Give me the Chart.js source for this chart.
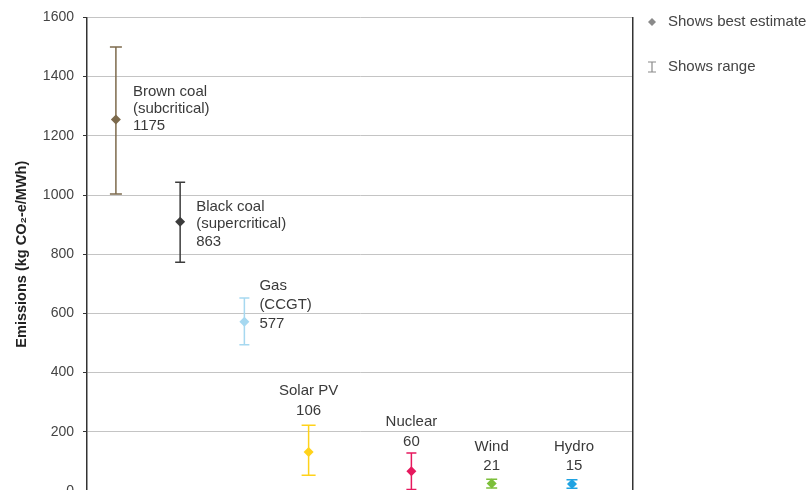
<!DOCTYPE html>
<html>
<head>
<meta charset="utf-8">
<script src="https://cdn.jsdelivr.net/npm/chart.js@4.4.1/dist/chart.umd.min.js"></script>
<style>
  html, body { margin: 0; padding: 0; background: #fff; overflow: hidden; }
  #wrap { width: 811px; height: 490px; overflow: hidden; }
</style>
</head>
<body>
<div id="wrap"><canvas id="chart" width="811" height="510"></canvas></div>
<script>
// datos del gráfico (kg CO2-e/MWh)
const categories = ['Brown coal', 'Black coal', 'Gas', 'Solar PV', 'Nuclear', 'Wind', 'Hydro'];
const subLabels = ['(subcritical)', '(supercritical)', '(CCGT)', '', '', '', ''];
const labelValues = [1175, 863, 577, 106, 60, 21, 15];
const xPositions = [0.45, 1.45, 2.45, 3.45, 5.05, 6.3, 7.55];
const bestEstimate = [1255, 910, 572, 132, 67, 25, 24];
const rangeLow = [1003, 773, 494, 53, 5, 10, 9];
const rangeHigh = [1500, 1043, 652, 222, 128, 40, 38];
const yTicks = [0, 200, 400, 600, 800, 1000, 1200, 1400, 1600];
const legendItems = ['Shows best estimate', 'Shows range'];

// estilos
const colors = ['#7d6a4c', '#3c3c3c', '#a6d8f0', '#ffd21a', '#e6195e', '#7cbf3a', '#1fa3e2'];
const capRadius = [6, 5, 5, 7, 5, 5.5, 5.5];
// posición de las etiquetas respecto al punto (px): dx, dy de la primera línea, alto de línea, alineación
const labelLayout = [
    { dx: 17, dy: -28, lh: 17, align: 'left' },
    { dx: 16, dy: -15, lh: 17.5, align: 'left' },
    { dx: 15, dy: -36, lh: 19, align: 'left' },
    { dx: 0, dy: -61, lh: 20, align: 'center' },
    { dx: 0, dy: -49, lh: 20, align: 'center' },
    { dx: 0, dy: -37, lh: 19, align: 'center' },
    { dx: 2, dy: -37, lh: 19, align: 'center' }
];
const FONT = '"Liberation Sans", Arial, sans-serif';

(function () {
    const datasets = [];

    // rangos: línea vertical con topes horizontales
    categories.forEach((cat, i) => {
        datasets.push({
            label: cat + ' range',
            showLine: true,
            data: [{ x: xPositions[i], y: rangeLow[i] }, { x: xPositions[i], y: rangeHigh[i] }],
            borderColor: colors[i],
            borderWidth: 1.5,
            pointStyle: 'line',
            pointRadius: capRadius[i],
            pointBorderColor: colors[i],
            pointBorderWidth: 1.5
        });
    });

    // mejor estimación (rombos)
    datasets.push({
        label: 'best estimate',
        data: categories.map((c, i) => ({ x: xPositions[i], y: bestEstimate[i] })),
        pointStyle: 'rectRot',
        pointRadius: 5,
        pointBackgroundColor: colors,
        pointBorderColor: colors,
        pointBorderWidth: 0
    });

    const pointLabels = {
        id: 'pointLabels',
        afterDatasetsDraw(chart) {
            const ctx = chart.ctx;
            const xs = chart.scales.x, ys = chart.scales.y;
            ctx.save();
            ctx.font = '15px ' + FONT;
            ctx.fillStyle = '#3a3a3a';
            ctx.textBaseline = 'middle';
            categories.forEach((cat, i) => {
                const lay = labelLayout[i];
                const px = xs.getPixelForValue(xPositions[i]) + lay.dx;
                const py = ys.getPixelForValue(bestEstimate[i]) + lay.dy;
                const lines = [cat];
                if (subLabels[i]) lines.push(subLabels[i]);
                lines.push(String(labelValues[i]));
                ctx.textAlign = lay.align;
                lines.forEach((t, k) => ctx.fillText(t, px, py + k * lay.lh));
            });
            ctx.restore();
        }
    };

    const sideLegend = {
        id: 'sideLegend',
        afterDraw(chart) {
            const ctx = chart.ctx;
            const x0 = chart.chartArea.right + 19;
            ctx.save();
            ctx.fillStyle = '#8a8a8a';
            ctx.strokeStyle = '#8a8a8a';
            // rombo
            ctx.beginPath();
            ctx.moveTo(x0, 18); ctx.lineTo(x0 + 4, 22); ctx.lineTo(x0, 26); ctx.lineTo(x0 - 4, 22);
            ctx.closePath();
            ctx.fill();
            // I de rango
            ctx.lineWidth = 1.2;
            ctx.beginPath();
            ctx.moveTo(x0, 62); ctx.lineTo(x0, 72);
            ctx.moveTo(x0 - 4, 62); ctx.lineTo(x0 + 4, 62);
            ctx.moveTo(x0 - 4, 72); ctx.lineTo(x0 + 4, 72);
            ctx.stroke();
            ctx.font = '15px ' + FONT;
            ctx.fillStyle = '#444';
            ctx.textAlign = 'left';
            ctx.textBaseline = 'middle';
            ctx.fillText(legendItems[0], x0 + 16, 22);
            ctx.fillText(legendItems[1], x0 + 16, 67);
            ctx.restore();
        }
    };

    new Chart(document.getElementById('chart'), {
        type: 'scatter',
        data: { datasets: datasets },
        options: {
            responsive: false,
            animation: false,
            events: [],
            layout: { padding: { left: 0, right: 178, top: 15, bottom: 19 } },
            plugins: {
                legend: { display: false },
                tooltip: { enabled: false }
            },
            scales: {
                x: {
                    type: 'linear',
                    display: false,
                    min: 0,
                    max: 8.5
                },
                y: {
                    min: 0,
                    max: 1600,
                    afterBuildTicks(scale) {
                        scale.ticks = yTicks.map(v => ({ value: v }));
                    },
                    afterFit(scale) { scale.width = 87; },
                    ticks: {
                        color: '#444',
                        padding: 9,
                        font: { family: FONT, size: 14 },
                        callback: v => String(v)
                    },
                    grid: {
                        color: '#c4c4c4',
                        lineWidth: 1,
                        tickLength: 4,
                        tickColor: '#333'
                    },
                    border: { color: '#333', width: 1.5 },
                    title: {
                        display: true,
                        text: 'Emissions (kg CO\u2082-e/MWh)',
                        color: '#222',
                        font: { family: FONT, size: 14.5, weight: 'bold' },
                        padding: { top: 13, bottom: 0 }
                    }
                },
                y2: {
                    position: 'right',
                    min: 0,
                    max: 1600,
                    ticks: { display: false },
                    grid: { display: false, drawTicks: false },
                    border: { color: '#333', width: 1.5 },
                    afterFit(scale) { scale.width = 0; }
                }
            }
        },
        plugins: [pointLabels, sideLegend]
    });
})();
</script>
</body>
</html>
